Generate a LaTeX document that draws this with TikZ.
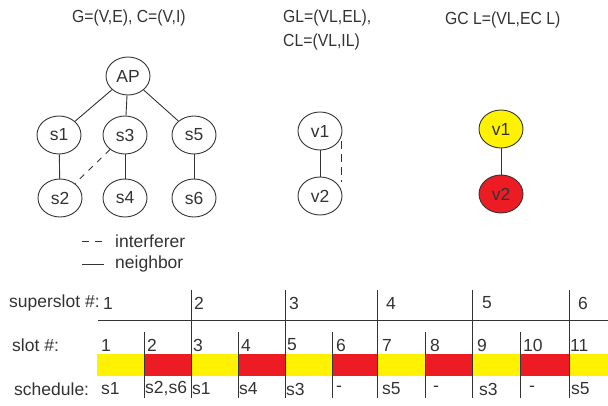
\documentclass[tikz,border=0pt]{standalone}
\usepackage{fontspec}
\setmainfont{Liberation Sans}
\newfontfamily\narrowfont{Liberation Sans}[FakeStretch=0.9]
\usetikzlibrary{shapes.geometric}
\definecolor{ink}{HTML}{333333}
\definecolor{yel}{HTML}{FFF200}
\definecolor{red}{HTML}{ED1C24}
\tikzset{
  vnode/.style={ellipse,draw=ink,line width=0.9pt,minimum width=44pt,minimum height=38pt,inner sep=0pt,font=\fontsize{17.5}{20}\selectfont,text=ink},
  edge/.style={draw=ink,line width=0.9pt},
  intf/.style={draw=ink,line width=0.9pt,dash pattern=on 6pt off 6pt},
  ttl/.style={font=\narrowfont\fontsize{17.5}{19}\selectfont,text=ink,inner sep=0pt},
  lbl/.style={font=\fontsize{17.5}{19}\selectfont,text=ink,inner sep=0pt},
  num/.style={font=\fontsize{17.5}{20}\selectfont,text=ink,inner sep=0pt,anchor=west},
  tline/.style={draw=ink,line width=0.9pt},
}
\begin{document}
\begin{tikzpicture}[x=1pt,y=-1pt]
\useasboundingbox (0,0) rectangle (608,405);
% titles
\node[ttl,anchor=west] (t1) at (72,18) {G=(V,E), C=(V,I)};
\node[ttl,anchor=west] (t2) at (283,18) {GL=(VL,EL),};
\node[ttl,anchor=west] (t3) at (283,42) {CL=(VL,IL)};
\node[ttl,anchor=west] (t4) at (445,20) {GC L=(VL,EC L)};
% tree
\node[vnode] (AP) at (128,76) {AP};
\node[vnode] (s1) at (59,135) {s1};
\node[vnode] (s3) at (125,135) {s3};
\node[vnode] (s5) at (194,135) {s5};
\node[vnode] (s2) at (60,198) {s2};
\node[vnode] (s4) at (125,198) {s4};
\node[vnode] (s6) at (194,198) {s6};
\draw[edge] (AP) -- (s1);
\draw[edge] (AP) -- (s3);
\draw[edge] (AP) -- (s5);
\draw[edge] (s1) -- (s2);
\draw[edge] (s3) -- (s4);
\draw[edge] (s5) -- (s6);
\draw[intf] (s3) -- (s2);
% legend
\coordinate (la) at (82,241);
\coordinate (lb) at (104,241);
\coordinate (lc) at (82,264);
\coordinate (ld) at (104,264);
\draw[intf,dash pattern=on 7pt off 6pt] (la) -- (lb);
\draw[edge] (lc) -- (ld);
\node[lbl,anchor=west] (li) at (115,241) {interferer};
\node[lbl,anchor=west] (ln) at (115,264) {neighbor};
% line graph
\node[vnode] (v1) at (320,131) {v1};
\node[vnode] (v2) at (320,196) {v2};
\draw[edge] (v1) -- (v2);
\coordinate (d1) at (341,141);
\coordinate (d2) at (341,182);
\draw[intf,dash pattern=on 8pt off 5pt] (d1) -- (d2);
% coloured
\node[vnode,fill=yel] (c1) at (501,129) {v1};
\node[vnode,fill=red] (c2) at (501,194) {v2};
\draw[edge] (c1) -- (c2);
% timeline
\node[num,anchor=west] (ss) at (9,303) {superslot \#:};
\node[num,anchor=west] (sl) at (12,345) {slot \#:};
\node[num,anchor=west] (sc) at (14,389) {schedule:};
% colour bar
\foreach \a/\b/\c in {97/144/yel,144/191/red,191/238/yel,238/285/red,285/332/yel,332/377/red,377/425/yel,425/472/red,472/520/yel,520/569/red,569/608/yel}
  \fill[\c] (\a,354) rectangle (\b,376);
\draw[tline] (98,320) -- (608,320);
\foreach \x in {191,285,377,472,569}
  \draw[tline] (\x,290) -- (\x,398);
\foreach \x in {144,238,332,425,520}
  \draw[tline] (\x,332) -- (\x,398);
% superslot numbers
\foreach \x/\t in {103/1,194/2,289/3,386/4,482/5,578/6}
  \node[num] at (\x,303) {\t};
% slot numbers
\foreach \x/\t in {101/1,147/2,193/3,241/4,287/5,336/6,382/7,430/8,477/9,523/10,570/11}
  \node[num] at (\x,345) {\t};
% schedule
\foreach \x/\t in {101/s1,145/{s2,s6},192/s1,239/s4,286/s3,336/-,382/s5,433/-,479/s3,529/-,571/s5}
  \node[num] at (\x,389) {\t};
\end{tikzpicture}
\end{document}
